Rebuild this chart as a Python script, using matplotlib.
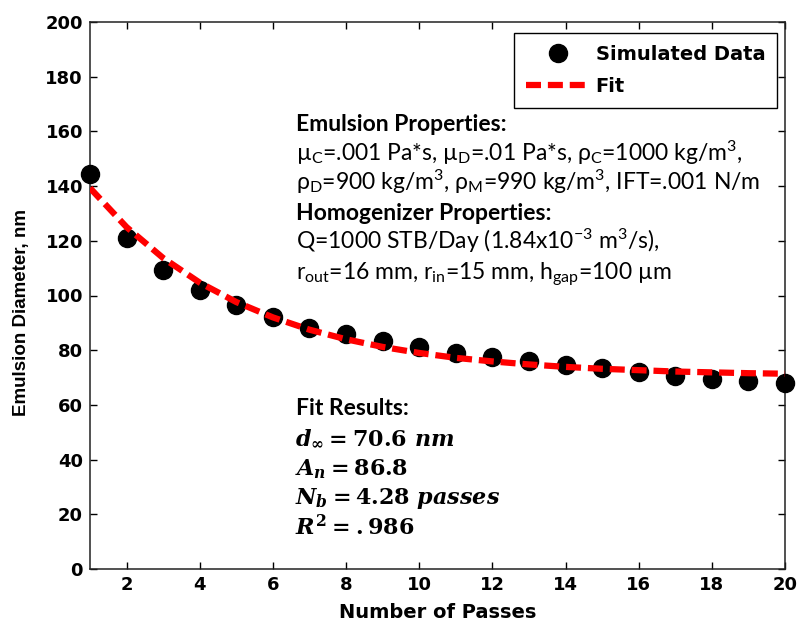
import matplotlib
matplotlib.use("Agg")
import matplotlib.pyplot as plt

passes = list(range(1, 21))
diameter = [144.5, 121, 109.5, 102, 96.5, 92, 88, 86, 83.5, 81,
            79, 77.5, 76, 74.5, 73.5, 72, 70.5, 69.5, 68.8, 68]
fit_vals = [139.3, 125.0, 113.7, 104.7, 97.6, 92.0, 87.5, 84.0, 81.2, 79.0,
            77.2, 75.9, 74.8, 73.9, 73.2, 72.7, 72.2, 71.9, 71.6, 71.4]
xticks = list(range(2, 21, 2))
yticks = list(range(0, 201, 20))

plt.rcParams['mathtext.fontset'] = 'custom'
plt.rcParams['mathtext.rm'] = 'DejaVu Serif:bold'
plt.rcParams['mathtext.it'] = 'DejaVu Serif:bold:italic'
plt.rcParams['mathtext.bf'] = 'DejaVu Serif:bold'

W, H = 798, 630
fig = plt.figure(figsize=(W / 100, H / 100), dpi=100)
ax = fig.add_axes([90 / W, 1 - 569 / H, (785 - 90) / W, (569 - 22) / H])

ax.plot(passes, diameter, 'o', color='black', markersize=13, clip_on=False,
        zorder=3, label='Simulated Data')
ax.plot(passes, fit_vals, color='#ff0000', lw=4.5, dashes=(2.4, 1.1),
        zorder=4, label='Fit')

ax.set_xlim(1, 20)
ax.set_ylim(0, 200)
ax.set_xticks(xticks)
ax.set_yticks(yticks)
for lab in ax.get_xticklabels() + ax.get_yticklabels():
    lab.set_fontweight('bold')
    lab.set_fontfamily('DejaVu Sans')
ax.tick_params(direction='in', length=5, width=1, top=True, right=True,
               labelsize=13, pad=5, colors='black')
for s in ax.spines.values():
    s.set_linewidth(1.1)
    s.set_color('#222222')

ax.set_xlabel('Number of Passes', fontsize=14, fontweight='bold',
              family='DejaVu Sans')
ax.xaxis.set_label_coords(0.5, -(613 - 569) / (569 - 22), transform=ax.transAxes)
ax.xaxis.label.set_va('center')
ax.set_ylabel('Emulsion Diameter, nm', fontsize=13.5, fontweight='bold',
              family='Liberation Sans')
ax.yaxis.set_label_coords((21 - 90) / 695, (569 - 312) / 547)
ax.yaxis.label.set_va('center')

leg = ax.legend(loc='upper right', bbox_to_anchor=(777 / W, 1 - 33 / H),
                bbox_transform=fig.transFigure, borderaxespad=0,
                prop={'family': 'DejaVu Sans', 'weight': 'bold', 'size': 14},
                fancybox=False, framealpha=1, edgecolor='black',
                handlelength=3.3, handletextpad=0.3, labelspacing=0.7,
                borderpad=0.6, numpoints=1)
leg.get_frame().set_linewidth(1.0)

tfam = ['Lato', 'DejaVu Sans']
x0 = 296 / W
prop_lines = [
    ('Emulsion Properties:', 'bold'),
    (r'µ$_\mathregular{C}$=.001 Pa*s, µ$_\mathregular{D}$=.01 Pa*s, '
     r'ρ$_\mathregular{C}$=1000 kg/m$^\mathregular{3}$,', 'normal'),
    (r'ρ$_\mathregular{D}$=900 kg/m$^\mathregular{3}$, ρ$_\mathregular{M}$=990 '
     r'kg/m$^\mathregular{3}$, IFT=.001 N/m', 'normal'),
    ('Homogenizer Properties:', 'bold'),
    (r'Q=1000 STB/Day (1.84x10$^\mathregular{-3}$ m$^\mathregular{3}$/s),', 'normal'),
    (r'r$_\mathregular{out}$=16 mm, r$_\mathregular{in}$=15 mm, '
     r'h$_\mathregular{gap}$=100 µm', 'normal'),
]
base = 131
for i, (txt, wt) in enumerate(prop_lines):
    fig.text(x0, 1 - (base + i * 29.6) / H, txt, fontsize=16.5, fontweight=wt,
             family=tfam, va='baseline', ha='left', color='black')

fig.text(x0, 1 - 415 / H, 'Fit Results:', fontsize=16.5, fontweight='bold',
         family=tfam, va='baseline', ha='left')
fit_lines = [r'$d_{\infty} = 70.6\ nm$', r'$A_n = 86.8$',
             r'$N_b = 4.28\ passes$', r'$R^2 = .986$']
fit_base = [445, 475, 504, 535]
for txt, b in zip(fit_lines, fit_base):
    fig.text(295 / W, 1 - b / H, txt, fontsize=16, va='baseline', ha='left')

fig.savefig('out.png', dpi=100)
